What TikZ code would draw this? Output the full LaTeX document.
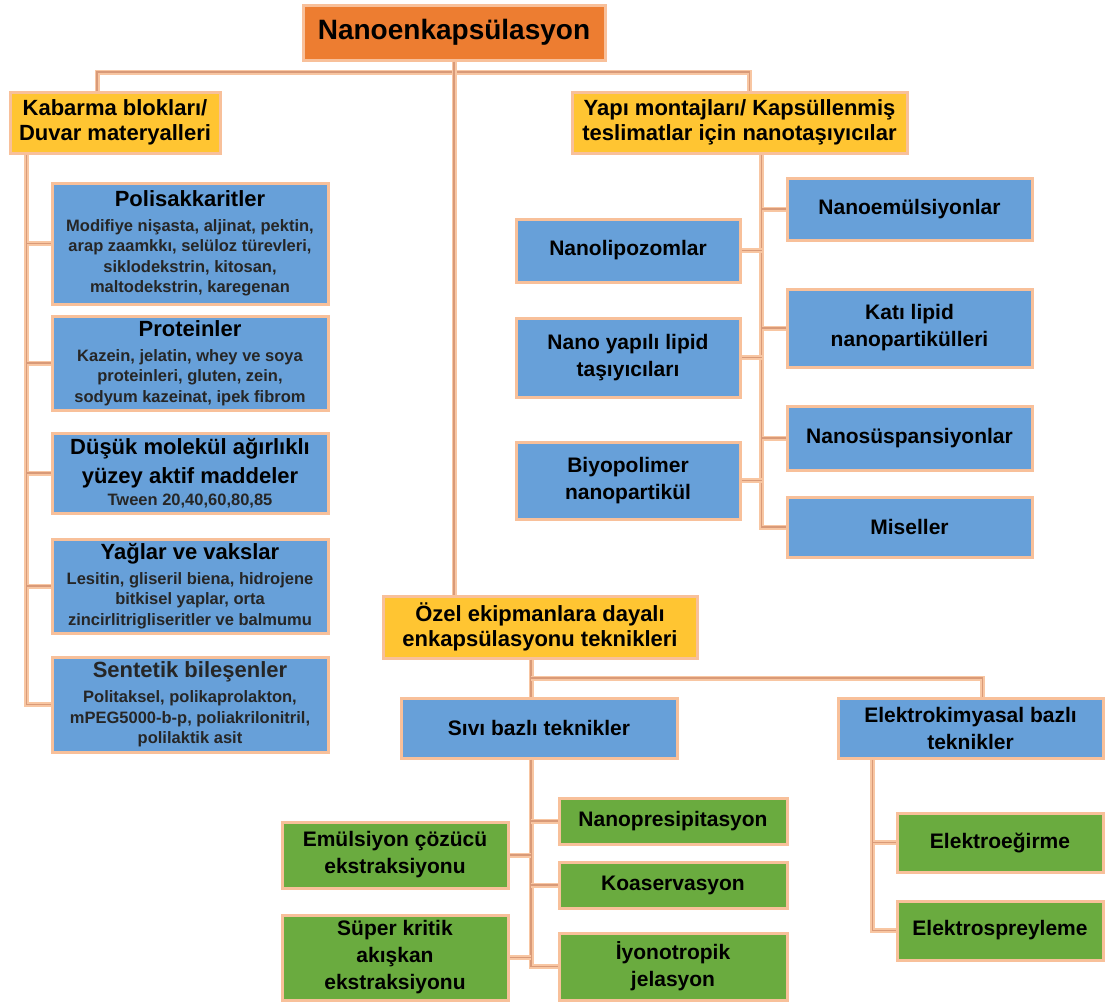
\documentclass[tikz,border=0pt]{standalone}
\usepackage{fontspec}
\setmainfont{Liberation Sans}
\definecolor{titleorange}{HTML}{ED7D31}
\definecolor{groupyellow}{HTML}{FFC532}
\definecolor{itemblue}{HTML}{67A0D9}
\definecolor{methodgreen}{HTML}{6AAB3F}
\definecolor{boxedge}{HTML}{F8C09A}
\definecolor{linkglow}{HTML}{F8C6A2}
\definecolor{linkcore}{HTML}{D99A78}
\definecolor{subgray}{HTML}{262626}

\begin{document}
\begin{tikzpicture}[x=1pt,y=-1pt,
  box/.style={draw=boxedge,line width=3pt,align=center,inner sep=2pt},
  topbox/.style={box,fill=titleorange,font=\fontsize{28}{32}\selectfont\bfseries},
  groupbox/.style={box,fill=groupyellow,font=\fontsize{22}{25}\selectfont\bfseries},
  itembox/.style={box,fill=itemblue,font=\fontsize{21}{27}\selectfont\bfseries},
  listbox/.style={box,fill=itemblue,minimum width=276,font=\fontsize{16.5}{20.5}\selectfont\bfseries},
  methodbox/.style={box,fill=methodgreen,font=\fontsize{21}{27}\selectfont\bfseries},
  link/.style={draw=linkcore,line width=1.5pt,preaction={draw=linkglow,line width=5pt}}]
  \newcommand*{\Head}{\fontsize{22}{28}\selectfont\bfseries}
  \newcommand*{\Sub}{\fontsize{16.5}{20.5}\selectfont\bfseries\color{subgray}}
  \useasboundingbox (0,0) rectangle (1110,1005);

  \node[topbox,minimum width=302,minimum height=55] (title) at (454,32.5) {Nanoenkapsülasyon};
  \node[groupbox,minimum width=210,minimum height=61] (kabarma) at (115,122.5) {Kabarma blokları/\\Duvar materyalleri};
  \node[groupbox,minimum width=335,minimum height=61] (yapi) at (739.5,122.5) {Yapı montajları/ Kapsüllenmiş\\teslimatlar için nanotaşıyıcılar};

  \node[listbox,minimum height=121] (poli) at (190,243.5)
    {\Head Polisakkaritler\\[4.5pt]\Sub Modifiye nişasta, aljinat, pektin,\\\Sub arap zaamkkı, selüloz türevleri,\\\Sub siklodekstrin, kitosan,\\\Sub maltodekstrin, karegenan};
  \node[listbox,minimum height=94] (prot) at (190,363)
    {\Head Proteinler\\[4.5pt]\Sub Kazein, jelatin, whey ve soya\\\Sub proteinleri, gluten, zein,\\\Sub sodyum kazeinat, ipek fibrom};
  \node[listbox,minimum height=80] (dusuk) at (190,473)
    {\Head Düşük molekül ağırlıklı\\[7.5pt]\Head yüzey aktif maddeler\\[1.5pt]\Sub Tween 20,40,60,80,85};
  \node[listbox,minimum height=94] (yag) at (190,586)
    {\Head Yağlar ve vakslar\\[4.5pt]\Sub Lesitin, gliseril biena, hidrojene\\\Sub bitkisel yaplar, orta\\\Sub zincirlitrigliseritler ve balmumu};
  \node[listbox,minimum height=95] (sent) at (190,704.5)
    {\Head\color{subgray}Sentetik bileşenler\\[4.5pt]\Sub Politaksel, polikaprolakton,\\\Sub mPEG5000-b-p, poliakrilonitril,\\\Sub polilaktik asit};

  \node[itembox,minimum width=245,minimum height=62] (emul) at (909.5,209) {Nanoemülsiyonlar};
  \node[itembox,minimum width=245,minimum height=78] (kati) at (909.5,328) {Katı lipid\\nanopartikülleri};
  \node[itembox,minimum width=245,minimum height=64] (susp) at (909.5,438) {Nanosüspansiyonlar};
  \node[itembox,minimum width=245,minimum height=60] (misel) at (909.5,527) {Miseller};
  \node[itembox,minimum width=224,minimum height=63] (lipo) at (628,250.5) {Nanolipozomlar};
  \node[itembox,minimum width=224,minimum height=79] (nlc) at (628,357.5) {Nano yapılı lipid\\taşıyıcıları};
  \node[itembox,minimum width=224,minimum height=77] (biyo) at (628,480.5) {Biyopolimer\\nanopartikül};

  \node[groupbox,minimum width=314,minimum height=62] (ozel) at (540,627) {Özel ekipmanlara dayalı\\enkapsülasyonu teknikleri};
  \node[itembox,minimum width=276,minimum height=60] (sivi) at (539,728) {Sıvı bazlı teknikler};
  \node[itembox,minimum width=265,minimum height=60] (elektro) at (970.5,728) {Elektrokimyasal bazlı\\teknikler};

  \node[methodbox,minimum width=228,minimum height=46] (nanop) at (673,821) {Nanopresipitasyon};
  \node[methodbox,minimum width=228,minimum height=46] (koas) at (673,885) {Koaservasyon};
  \node[methodbox,minimum width=228,minimum height=67] (iyon) at (673,966.5) {İyonotropik\\jelasyon};
  \node[methodbox,minimum width=226,minimum height=66] (emcoz) at (395,855) {Emülsiyon çözücü\\ekstraksiyonu};
  \node[methodbox,minimum width=226,minimum height=85] (super) at (395,957.5) {Süper kritik\\akışkan\\ekstraksiyonu};
  \node[methodbox,minimum width=206,minimum height=59] (elegir) at (1000,842.5) {Elektroeğirme};
  \node[methodbox,minimum width=206,minimum height=59] (elsprey) at (1000,930.5) {Elektrospreyleme};

  \coordinate (bar) at (454,72);
  \coordinate (lspine) at ([xshift=18pt]kabarma.south west);
  \coordinate (rspine) at ([xshift=22pt]yapi.south);
  \coordinate (obar) at (531,678);
  \coordinate (espine) at ([xshift=36pt]elektro.south west);

  \draw[link] ([xshift=-18pt]kabarma.north) |- (bar) -| ([xshift=10pt]yapi.north);
  \draw[link] (title.south) -- (title.south |- ozel.north);
  \draw[link] (lspine) |- (sent.west);
  \foreach \n in {poli,prot,dusuk,yag}
    \draw[link] (\n.west) -- (\n.west -| lspine);
  \draw[link] (rspine) |- (misel.west);
  \foreach \n in {emul,kati,susp}
    \draw[link] (\n.west) -- (\n.west -| rspine);
  \foreach \n in {lipo,nlc,biyo}
    \draw[link] (\n.east) -- (\n.east -| rspine);
  \draw[link] (obar |- ozel.south) -- (obar |- sivi.north);
  \draw[link] (obar) -| ([xshift=12pt]elektro.north);
  \draw[link] (obar |- sivi.south) |- (iyon.west);
  \foreach \n in {nanop,koas}
    \draw[link] (\n.west) -- (\n.west -| obar);
  \foreach \n in {emcoz,super}
    \draw[link] (\n.east) -- (\n.east -| obar);
  \draw[link] (espine) |- (elsprey.west);
  \draw[link] (elegir.west) -- (elegir.west -| espine);
\end{tikzpicture}
\end{document}
